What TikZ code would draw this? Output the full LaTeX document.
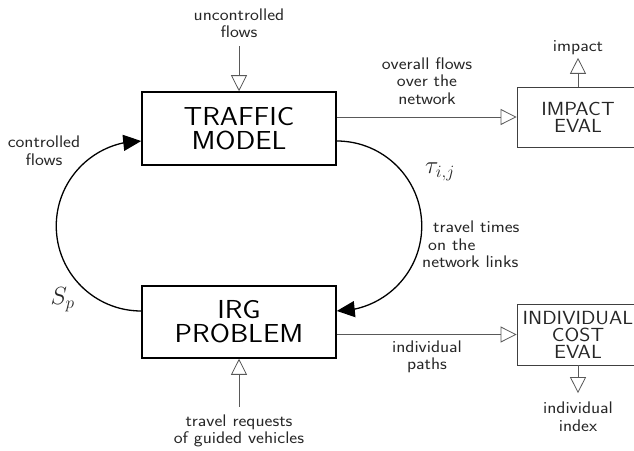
\documentclass[tikz,border=0pt]{standalone}
\usepackage{fontspec}
\setsansfont{Latin Modern Sans}[FakeStretch=1.12]
\usetikzlibrary{arrows.meta,bending}
\begin{document}
\begin{tikzpicture}[x=1pt,y=1pt,
  mainbox/.style={draw, line width=1.5pt, minimum width=194pt, minimum height=73pt, align=center, font=\sffamily\fontsize{26}{24}\selectfont, inner sep=0pt},
  evalbox/.style={draw=black!75, line width=0.8pt, minimum width=122pt, align=center, font=\sffamily\fontsize{19}{17}\selectfont, inner sep=0pt, text=black!85},
  lbl/.style={align=center, font=\sffamily\fontsize{16.8}{17.5}\selectfont, inner sep=0pt, text=black!85},
  mathlbl/.style={inner sep=0pt, font=\fontsize{24}{24}\selectfont, text=black!85},
  flow/.style={draw=black!65, line width=0.8pt, -{Triangle[open,length=16pt,width=16pt]}},
  loop/.style={line width=1.3pt, -{Triangle[length=18pt,width=16pt]}},
]
\useasboundingbox (0,0) rectangle (634,450);
\clip (0,0) rectangle (634,450);

\node[mainbox] (traffic) at (239,321.5) {TRAFFIC\\MODEL};
\node[mainbox, minimum height=72pt] (irg) at (239,128) {IRG\\PROBLEM};
\node[evalbox, minimum height=60pt] (impact) at (578,333) {IMPACT\\EVAL};
\node[evalbox, minimum height=61pt] (indcost) at (578,115.5) {INDIVIDUAL\\COST\\EVAL};

\node[lbl] (unc) at (239,426.7) {uncontrolled\\flows};
\node[lbl] (overall) at (427,369) {overall flows\\over the\\network};
\node[lbl] (imp) at (578,402.5) {impact};
\node[lbl] (ctrl) at (44,299.5) {controlled\\flows};
\node[lbl, align=left, anchor=west] (tt) at (422,205.3) {\hspace{11pt}travel times\\\hspace{6pt}on the\\network links};
\node[lbl] (paths) at (427,93) {individual\\paths};
\node[lbl] (req) at (239,19) {travel requests\\of guided vehicles};
\node[lbl] (idx) at (578,33.3) {individual\\index};
\node[mathlbl] (tau) at (440,278.5) {$\tau_{i,j}$};
\node[mathlbl] (sp) at (62.7,150) {$S_p$};

\draw[flow, shorten <=8pt] (unc.south -| traffic.north) -- (traffic.north);
\draw[flow] (traffic.east |- impact.west) -- (impact.west);
\draw[flow, shorten >=3pt] (impact.north) -- (imp.south -| impact.north);
\draw[flow] (irg.east |- indcost.west) -- (indcost.west);
\draw[flow, shorten <=8pt] (req.north -| irg.south) -- (irg.south);
\draw[flow, shorten >=8.7pt] (indcost.south) -- (idx.north -| indcost.south);

\draw[loop] ([yshift=-12.5pt]traffic.east) arc[start angle=90, end angle=-90, radius=85];
\draw[loop] ([yshift=11pt]irg.west) arc[start angle=-90, end angle=-270, radius=85];
\end{tikzpicture}
\end{document}
